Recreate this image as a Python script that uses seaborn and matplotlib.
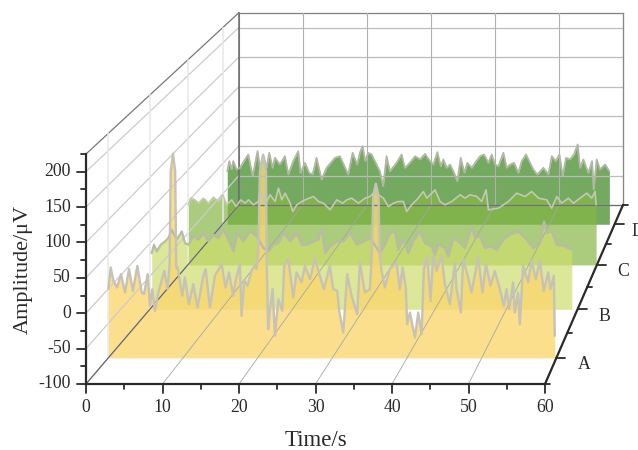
import matplotlib
matplotlib.use("Agg")
import matplotlib.pyplot as plt
import numpy as np
import seaborn as sns

# values, time in s and amplitude in uV
time_a = [0.0, 0.32, 0.68, 1.17, 1.7, 2.24, 2.77, 3.3, 3.89, 4.47, 4.78, 5.27, 5.58, 5.89, 6.25, 6.7, 7.5, 7.94, 8.2, 8.36, 8.66, 8.96, 9.1, 9.28, 9.9,
          10.26, 10.8, 11.38, 11.96, 12.72, 13.03, 13.61, 14.28, 15.17, 15.71, 16.15, 16.73, 17.04, 17.62, 17.85, 18.2, 18.65, 19.18, 19.63,
          19.86, 20.1, 20.3, 20.71, 21.12, 21.2, 21.4, 21.65, 22.0, 22.32, 22.76, 23.3, 23.56, 24.1, 24.77, 25.21, 25.88, 26.33, 27.0, 27.67,
          28.34, 28.87, 29.67, 30.12, 30.66, 30.92, 31.46, 31.99, 32.57, 33.33, 33.69, 34.36, 35.03, 35.3, 35.48, 35.83, 36.18, 36.35, 36.55, 37.03, 37.7,
          38.59, 39.04, 39.4, 39.84, 40.02, 40.39, 41.06, 41.5, 41.95, 42.26, 42.71, 43.15, 43.51, 43.96, 44.63, 45.07, 45.74, 46.41, 46.63,
          47.21, 47.52, 48.19, 48.64, 49.53, 50.11, 50.56, 51.18, 51.76, 52.43, 52.97, 53.32, 53.68, 54.21, 54.44, 54.88, 55.11, 55.55, 56.22,
          56.67, 57.25, 57.78, 58.32, 58.9, 59.21, 59.66, 59.79]
amp_a = [-0.5, 31, 11.7, 2, 21.3, -5.3, 28.6, -2.9, 33.3, -5.3, -7.6, 21.3, -24.6, -0.5, -31.8, -5.3, 26, -0.5, 33, 170, 195.7, 170, 31, 31, -10,
         16.4, -22.2, 6.8, -27, 18.9, 28.6, -27, 18.9, 35.8, 2, 23.7, -10.1, 11.7, 35.8, -39.1, 11.7, 4.4, 26, 33.3,
         28.6, 57.5, 170, 192.7, 170, 45, -58.4, -29.4, -0.5, -68, -14.9, -31.8, 33.3, 43, -12.5, 23.7, 9.3, 33.3, 14, 43,
         18.9, -0.5, 33.3, -0.5, -2.9, -31.8, -63.3, 21.3, -10, -36.7, 38.2, -5.3, -0.5, 50, 135, 152.1, 135, 50, 28.6, 2, 28.6,
         38.2, -0.5, 31, 2, -51.2, -34.3, -70.6, -34.3, -65.6, 28.6, 45.5, -17.4, 47.8, 26, 47.8, 6.8, -22.2, 38.2, -0.5,
         -34.3, 43, 16.4, -5.3, 45.5, -5.3, 35.8, 4.4, 26, -0.5, -24.6, -0.5, -29.4, 9.3, -34.3, -5.3, -51.2, 33.3, 9.3,
         40.6, 14, 40.6, -2.9, 23.7, -0.5, 18.9, -68]

time_b = [0.26, 0.59, 0.97, 1.53, 2.14, 2.6, 3.07, 3.77, 4.48, 4.94, 5.41, 6.11, 6.82, 7.52, 8.22, 8.92, 9.62, 10.33, 11.03, 11.73, 12.29, 13.13,
          14.07, 15.0, 15.94, 16.64, 17.35, 18.05, 18.75, 19.69, 20.62, 21.32, 22.03, 22.96, 23.66, 24.13, 24.6, 25.3, 26.24, 27.17, 28.11,
          29.05, 29.98, 30.92, 32.28, 32.99, 33.69, 34.39, 34.86, 35.56, 36.26, 36.96, 37.9, 38.6, 39.54, 40.0, 40.47, 41.41, 41.88, 42.58,
          43.28, 44.22, 45.15, 45.62, 46.32, 47.03, 47.73, 48.66, 49.6, 50.54, 51.71, 52.88, 53.81, 54.75, 55.31, 55.68, 56.39, 57.09, 58.26, 59.19]
amp_b = [-14.7, -2.1, -12.2, -2.1, 3, 8, 20.7, 5.5, 18.1, 0.4, -2.1, 10.6, 5.5, 15.6, 3, 13.1, 8, 20.7, 5.5, -12.2, 15.6, 3,
         18.1, 10.6, -7.2, -12.2, -2.1, 0.4, 15.6, 3, 15.6, -2.1, -2.1, 3, 5.5, 21.7, -14.7, -4.6, 3, 3, 15.6,
         -2.1, 3, 8, -14.7, -2.1, 15.6, 18.1, -9.7, 5.5, -14.7, 3, 18.1, 0.4, -4.6, -17.3, -2.1, -7.2, -19.8, 8,
         3, -7.2, 25.7, 8, 10.6, -7.2, -4.6, -9.7, 5.5, 13.1, 18.1, 5.5, -7.2, 0.4, 33.3, 15.6, 18.1, -2.1, -4.6, -9.7]

time_c = [0.09, 0.44, 1.07, 1.56, 2.29, 3.03, 3.76, 4.49, 5.13, 5.72, 6.45, 7.09, 7.77, 8.41, 8.9, 9.63, 10.36, 10.61, 11.34, 12.07, 12.81, 13.3,
          13.79, 14.27, 15.01, 15.4, 15.99, 16.72, 17.45, 18.43, 19.16, 19.9, 20.88, 21.85, 22.73, 23.32, 24.05, 25.03, 26.01, 26.73, 27.46,
          27.95, 28.69, 29.42, 30.15, 30.89, 31.62, 32.11, 32.84, 33.58, 34.56, 35.05, 36.27, 37.0, 37.73, 38.71, 39.94, 40.67, 41.4, 42.38,
          43.11, 43.75, 44.09, 45.56, 47.03, 48.25, 49.47, 50.45, 51.43, 52.65, 53.38, 54.12, 54.85, 55.83, 56.56, 57.54, 58.52, 59.25, 59.74, 59.89]
amp_c = [-4.7, 5.9, 3.2, -2.1, 5.9, -2.1, 7.5, 0.6, 11.2, -4.7, 3.2, -7.4, 3.2, -2.1, 3.2, -4.7, 0.6, 19.1, -4.7, 11.2, 0.6, 21.7,
         3.2, 13.8, -2.1, -15.3, -4.7, 0.6, 4.3, 8.5, 0.6, -2.1, -12.7, 3.2, -2.1, 3.2, 5.9, -2.1, 5.9, 8.5, 16.5,
         11.2, 5.9, -7.4, -2.1, 0.6, 0.6, -15.3, -4.7, 3.2, 16.4, 5.9, 19.1, 0.6, -4.7, 0.6, 11.2, 5.9, 11.2, 8.5,
         0.6, 19.1, -12.7, -10, 0.6, 13.8, 8.5, 16.4, 5.9, 3.2, -10, 8.5, -2.1, 5.9, -2.1, 5.9, 13.8, 5.9, 16.4, -4.7]

time_d = [0.72, 1.03, 1.39, 1.64, 2.15, 2.66, 3.27, 3.94, 4.6, 5.36, 5.72, 6.23, 6.74, 7.15, 7.66, 8.02, 8.78, 9.55, 10.06, 10.82, 11.59, 11.94,
          12.61, 13.27, 13.78, 14.39, 15.16, 15.92, 17.2, 17.96, 19.24, 19.9, 20.61, 21.02, 21.43, 21.84, 22.3, 22.81, 23.57, 24.08, 24.59,
          25.1, 25.61, 26.63, 27.4, 27.91, 28.67, 29.47, 30.23, 31.0, 31.76, 32.27, 32.88, 33.39, 33.8, 34.31, 34.82, 35.33, 35.94, 36.45,
          37.01, 37.47, 38.14, 38.65, 39.41, 40.02, 40.69, 41.2, 41.71, 42.22, 42.98, 43.49, 44.0, 44.61, 45.28, 45.79, 46.45, 47.06, 47.57,
          48.18, 49.1, 49.87, 50.38, 50.99, 51.55, 52.06, 52.57, 53.18, 53.79, 54.35, 54.71, 55.22, 55.99, 56.55, 56.8, 57.26, 57.77, 58.54, 59.2]
amp_d = [-12.2, 4.4, -9.4, 4.4, -9.4, -6.7, 4.4, 15.4, -20.5, 20.9, -6.7, 15.4, -6.7, 18.2, -6.7, 9.9, -1.2, 12.6, -17.7, 4.4, 20.9, -15,
         1.6, -15, -17.7, 9.9, -26, -6.7, 9.9, 12.6, -17.7, 18.2, -1.2, 18.2, 29.2, 4.4, 18.2, 15.4, -1.2, -12.2, -37,
         12.6, -12.2, 1.6, 15.4, -6.7, 1.6, 12.6, 7.1, 16.5, 4.4, -1.2, 19.3, -3.9, 7.1, -6.7, -1.2, -12.2, -28.8, 9.9,
         -15, 1.6, -6.7, 1.6, 12.6, 15.4, 1.6, 15.4, -1.2, -3.9, 18.2, -6.7, -1.2, 1.6, -15, 4.4, 15.4, 1.6, -9.4,
         -17.7, -6.7, -17.7, 12.6, 4.4, 15.4, -20.5, 9.9, 7.1, 15.4, 32, -6.7, 7.1, -15, 4.4, -42.6, 7.1, -9.4, -1.2, -12.2]

categories = ["A", "B", "C", "D"]
x_ticks = [0, 10, 20, 30, 40, 50, 60]
z_ticks = [-100, -50, 0, 50, 100, 150, 200]

# perspective box, front face is flat and lines run to one vanishing point
VX, VY = 1022, -711
PERSP = 0.0488
X_MAX, Z_MIN, Z_MAX, W_MAX = 60, -100, 225, 4
GRID_Z = [-100, -50, 0, 50, 100, 150, 200, 225]
INK = "#2a2a2a"


def project(x, w, z):
    x, z = np.asarray(x, dtype=float), np.asarray(z, dtype=float)
    s = 1 / (1 + PERSP * w)
    front_x = 86 + x * 459 / X_MAX
    front_y = 384 - (z - Z_MIN) * 230 / (Z_MAX - Z_MIN)
    return VX + (front_x - VX) * s, VY + (front_y - VY) * s


def seg(ax, x0, w0, z0, x1, w1, z1, color, lw):
    p0 = project(x0, w0, z0)
    p1 = project(x1, w1, z1)
    ax.plot([p0[0], p1[0]], [p0[1], p1[1]], color=color, lw=lw, solid_capstyle="projecting")


sns.set_theme(style="white")
plt.rcParams["font.family"] = ["Liberation Serif", "DejaVu Serif"]

fig = plt.figure(figsize=(6.38, 4.5), dpi=100)
ax = fig.add_axes([0, 0, 1, 1])
ax.set_xlim(0, 638)
ax.set_ylim(450, 0)
ax.axis("off")

# walls and floor
for z in GRID_Z:
    edge = z == 225
    seg(ax, 0, 0, z, 0, W_MAX, z, "#777777" if edge else "#cccccc", 0.9)
    seg(ax, 0, W_MAX, z, X_MAX, W_MAX, z, "#808080" if edge else "#bcbcbc", 0.9)
for w in [0.5, 1.5, 2.5, 3.5]:
    seg(ax, 0, w, Z_MIN, 0, w, Z_MAX, "#e8e8e8", 1.1)
for x in x_ticks:
    seg(ax, x, 0, Z_MIN, x, W_MAX, Z_MIN, "#a6a6a6", 0.6)
    seg(ax, x, W_MAX, Z_MIN, x, W_MAX, Z_MAX, "#b0b0b0", 0.8)
seg(ax, 0, 0, Z_MIN, 0, W_MAX, Z_MIN, "#666666", 0.8)
seg(ax, 0, W_MAX, Z_MIN, 0, W_MAX, Z_MAX, "#666666", 1.1)
seg(ax, X_MAX, W_MAX, Z_MIN, X_MAX, W_MAX, Z_MAX, "#888888", 0.9)
seg(ax, 0, W_MAX, Z_MIN, X_MAX, W_MAX, Z_MIN, "#707070", 0.9)

# series back to front, each filled down to the floor
series = [
    (time_d, amp_d, 3.5, "#509537", 0.8, "#b3b6a6", 1.3),
    (time_c, amp_c, 2.5, "#86b745", 0.7, "#c4c8b4", 1.2),
    (time_b, amp_b, 1.5, "#cede6c", 0.7, "#b9baa8", 1.6),
    (time_a, amp_a, 0.5, "#fad76f", 0.8, "#c6c3b6", 1.7),
]
for times, amps, w, fill, alpha, line, lw in series:
    px, py = project(times, w, amps)
    _, floor_y = project(times, w, np.full(len(times), Z_MIN))
    ax.fill_between(px, py, floor_y, color=fill, alpha=alpha, lw=0)
    sns.lineplot(x=px, y=py, ax=ax, sort=False, estimator=None, color=line, lw=lw, solid_joinstyle="round")

# front axes
axis_lw = 1.6
seg(ax, 0, 0, Z_MIN, X_MAX, 0, Z_MIN, INK, axis_lw)
seg(ax, 0, 0, Z_MIN, 0, 0, Z_MAX, INK, axis_lw)
seg(ax, X_MAX, 0, Z_MIN, X_MAX, W_MAX, Z_MIN, INK, axis_lw)

for x in np.arange(0, 61, 5):
    px, py = project(x, 0, Z_MIN)
    ax.plot([px, px], [py, py + (8.5 if x % 10 == 0 else 4.5)], color=INK, lw=1.3)
for x in x_ticks:
    px, py = project(x, 0, Z_MIN)
    ax.text(px, py + 24, str(x), ha="center", va="center", fontsize=12.8, color=INK)

for z in np.arange(-100, 226, 25):
    px, py = project(0, 0, z)
    ax.plot([px - (9.5 if z % 50 == 0 else 5), px], [py, py], color=INK, lw=1.3)
for z in z_ticks:
    px, py = project(0, 0, z)
    ax.text(px - 15, py, str(z), ha="right", va="center", fontsize=12.8, color=INK)

for w in np.arange(0, 4.1, 0.5):
    px, py = project(X_MAX, w, Z_MIN)
    ax.plot([px, px + (9 if w % 1 == 0.5 else 5)], [py, py], color=INK, lw=1.3)
for w, name, gap in zip([0.5, 1.5, 2.5, 3.5], categories, [28, 27, 26, 23]):
    px, py = project(X_MAX, w, Z_MIN)
    ax.text(px + gap, py + 7, name, ha="center", va="center", fontsize=12.8, color=INK)

ax.text(316, 440, "Time/s", ha="center", va="center", fontsize=16.5, color=INK)
ax.text(23, 269, "Amplitude/μV", ha="center", va="center", rotation=90, fontsize=16, color=INK)

fig.savefig("out.png", dpi=100)
